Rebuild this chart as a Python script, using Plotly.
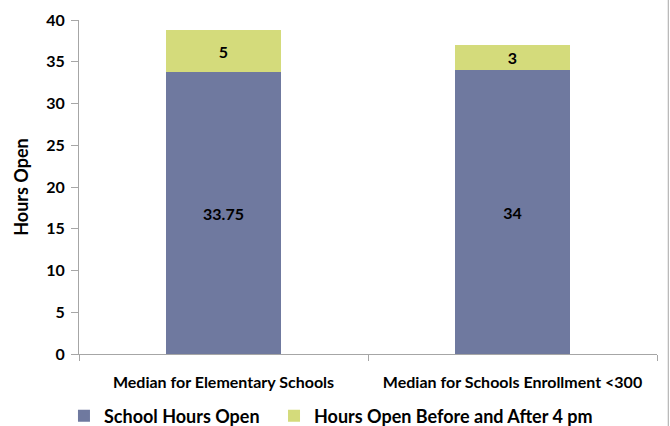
import plotly.graph_objects as go

categories = ["Median for Elementary Schools", "Median for Schools Enrollment <300"]
school_hours = [33.75, 34]
extra_hours = [5, 3]
school_labels = ["33.75", "34"]
extra_labels = ["5", "3"]
series_names = ["School Hours Open", "Hours Open Before and After 4 pm"]
y_ticks = [0, 5, 10, 15, 20, 25, 30, 35, 40]

FONT = "Lato, 'Open Sans', sans-serif"
LEG_FONT = dict(family=FONT, size=18, weight="bold", color="black")

fig = go.Figure()
fig.add_trace(go.Bar(
    x=categories, y=school_hours, name=series_names[0],
    marker=dict(color="#6F799F", line=dict(width=0)),
    text=school_labels, textposition="inside", insidetextanchor="middle",
    textfont=dict(family=FONT, size=16, color="black", weight="bold"),
    textangle=0, legend="legend",
))
fig.add_trace(go.Bar(
    x=categories, y=extra_hours, name=series_names[1],
    marker=dict(color="#D4DB7B", line=dict(width=0)),
    text=extra_labels, textposition="inside", insidetextanchor="middle",
    textfont=dict(family=FONT, size=16, color="black", weight="bold"),
    textangle=0, legend="legend2",
))

fig.update_layout(
    barmode="stack",
    bargap=0.6,
    width=670, height=426,
    margin=dict(l=79, r=13, t=20, b=72, autoexpand=False),
    plot_bgcolor="white", paper_bgcolor="white",
    font=dict(family=FONT, color="black"),
    showlegend=True,
    legend=dict(orientation="h", x=-0.026, xanchor="left", y=-0.1856, yanchor="middle",
                font=LEG_FONT, bgcolor="rgba(0,0,0,0)"),
    legend2=dict(orientation="h", x=0.3374, xanchor="left", y=-0.1856, yanchor="middle",
                 font=LEG_FONT, bgcolor="rgba(0,0,0,0)"),
    uniformtext=dict(minsize=16, mode="show"),
    shapes=[dict(type="line", xref="paper", yref="paper",
                 x0=1.0195, x1=1.0195, y0=-0.22, y1=1.07,
                 line=dict(color="#A6A6A6", width=1))],
)
fig.update_yaxes(
    range=[0, 40], tickvals=y_ticks, showgrid=False, zeroline=False,
    showline=True, linecolor="#A6A6A6", linewidth=1,
    ticks="outside", ticklen=7, tickcolor="#A6A6A6",
    tickfont=dict(family=FONT, size=16, weight="bold"),
    ticklabelstandoff=3, automargin=False,
    title=dict(text="Hours Open", font=dict(family=FONT, size=18, weight="bold"), standoff=12),
)
fig.update_xaxes(
    showgrid=False, showline=True, linecolor="#A6A6A6", linewidth=1,
    ticks="outside", ticklen=6, tickcolor="#A6A6A6", tickson="boundaries",
    tickfont=dict(family=FONT, size=16, weight="bold"),
    ticklabelstandoff=14, automargin=False,
)

fig.write_html("out.html", config={"displayModeBar": False},
               post_script="document.body.style.margin='0';")
